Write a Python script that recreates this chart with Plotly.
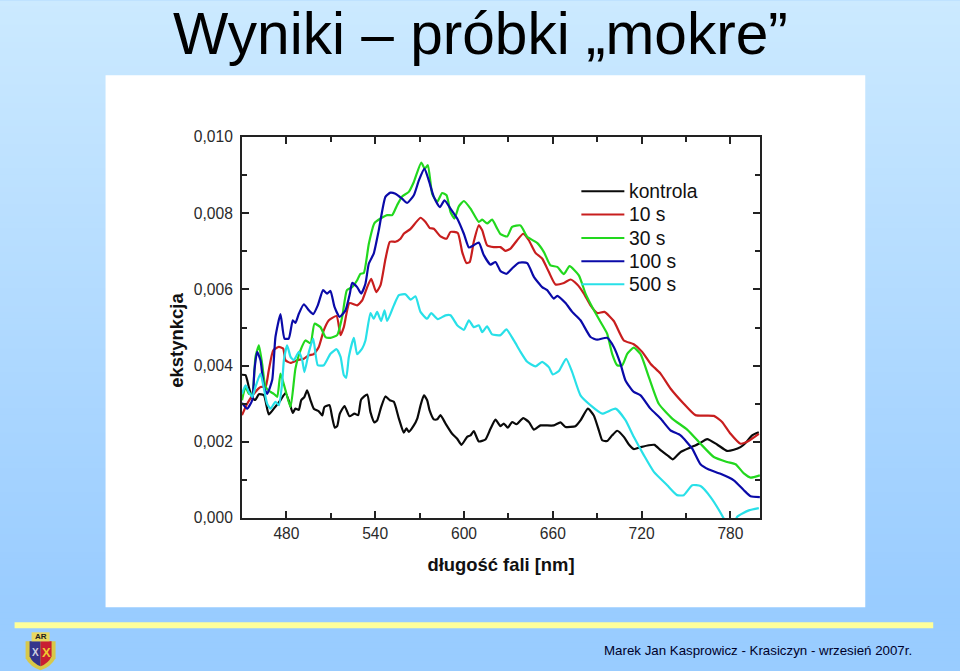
import numpy as np
import plotly.graph_objects as go

# spectra, extinction in units of 0.001
kontrola_nm = [450, 452.4, 454.6, 456.9, 459, 461.4, 464.8, 468.1, 471.5, 476, 479.4, 482.3, 484.3, 486.1, 488.4, 490, 492.2, 494, 496.3, 498.5, 501.9, 504.2, 505.7, 509.1, 510.9, 512.7, 514.3, 516.1, 519.3, 522.6, 526, 528.5, 530.5, 534.6, 536.8, 539.5, 541.3, 544, 546.9, 549.9, 552.6, 556, 559.3, 561.1, 562.7, 566.1, 568.4, 570.6, 572.9, 575.1, 576.7, 579.6, 581.9, 584.1, 587.5, 592, 595.4, 598.3, 602.1, 604.4, 606.6, 610, 614.5, 617.9, 621.3, 624.7, 626.9, 629.6, 632.5, 635.5, 640, 643.8, 647.2, 651.7, 655, 660.7, 665.2, 668.6, 675.3, 678.7, 683.7, 687.7, 691.1, 693.4, 696.7, 700.1, 703.5, 708, 711.4, 714.7, 719.3, 724.9, 728.7, 732.8, 737.3, 741.1, 746.3, 753, 758.7, 764.3, 771, 777.8, 782.3, 786.8, 790.2, 794.7, 799.2]
kontrola = [3.76, 3.75, 3.44, 3.15, 3.1, 3.25, 3.22, 2.72, 2.87, 3.09, 3.28, 3.0, 2.76, 2.87, 2.84, 3.09, 3.18, 3.35, 3.09, 2.87, 2.8, 2.69, 2.91, 2.96, 2.65, 2.37, 2.41, 2.74, 2.94, 2.67, 2.74, 2.7, 3.11, 3.24, 2.78, 2.51, 2.56, 2.91, 3.19, 3.09, 3.05, 2.61, 2.24, 2.35, 2.26, 2.43, 2.61, 2.95, 3.22, 3.09, 2.83, 2.59, 2.59, 2.7, 2.48, 2.21, 2.08, 1.92, 2.13, 2.17, 2.28, 2.01, 2.06, 2.34, 2.58, 2.41, 2.48, 2.37, 2.52, 2.46, 2.62, 2.52, 2.32, 2.43, 2.43, 2.43, 2.51, 2.39, 2.41, 2.56, 2.87, 2.69, 2.3, 2.04, 2.02, 2.17, 2.29, 2.13, 1.93, 1.81, 1.86, 1.91, 1.92, 1.78, 1.65, 1.54, 1.73, 1.85, 1.95, 2.07, 1.93, 1.76, 1.79, 1.86, 1.97, 2.17, 2.25]

s10_nm = [450, 453.5, 458, 462.5, 465.9, 468.1, 471.1, 474.9, 477.8, 479.4, 482.8, 487.3, 491.8, 495.2, 498.5, 501.9, 505.3, 508.7, 513.9, 516.6, 518.8, 522.6, 527.8, 531.2, 534.6, 537.3, 540.7, 543.6, 547, 549.9, 553.7, 557.1, 559.3, 563.9, 570.6, 574, 576.9, 579.6, 584.1, 588.2, 590.9, 595.8, 598.8, 601.7, 603.9, 606.6, 610, 612.3, 615.6, 620.1, 624.6, 628, 631.4, 635.9, 640, 643.8, 648.3, 652.8, 657.3, 661.8, 667.5, 672, 676.5, 681, 685.5, 690, 694.9, 701.2, 708, 714.7, 720.4, 726, 732.8, 739.5, 748.5, 756.4, 768.8, 774.4, 780.1, 786.8, 791.3, 799.2]
s10 = [2.7, 3.0, 3.26, 3.44, 3.44, 3.88, 4.4, 4.49, 4.45, 4.14, 4.07, 4.14, 4.18, 4.27, 4.3, 4.49, 4.93, 5.19, 5.3, 4.8, 5.01, 5.64, 5.58, 5.71, 6.06, 6.28, 5.93, 6.11, 6.81, 7.25, 7.25, 7.33, 7.46, 7.59, 7.88, 7.77, 7.61, 7.59, 7.39, 7.33, 7.51, 7.48, 6.98, 6.69, 6.72, 7.25, 7.68, 7.55, 7.16, 7.11, 7.11, 7.01, 7.07, 7.29, 7.46, 7.29, 6.96, 6.81, 6.46, 6.13, 6.17, 6.26, 6.13, 5.89, 5.58, 5.38, 5.41, 5.17, 4.66, 4.56, 4.36, 4.05, 3.79, 3.4, 3.0, 2.7, 2.68, 2.52, 2.21, 1.95, 2.0, 2.21]

s30_nm = [450, 452.4, 454.6, 456.9, 459.1, 461.4, 463.6, 465.9, 469.3, 471.5, 473.8, 476, 479.4, 482.8, 486.1, 489.5, 492.9, 496.3, 499, 503, 506.4, 509.8, 514.3, 517.7, 520.9, 524.4, 527.8, 530, 532.3, 535.7, 539.5, 543.6, 548.1, 551.5, 554.8, 558.2, 562.7, 566.1, 571.1, 573.5, 575.6, 578.5, 581.9, 585.2, 588.2, 590.9, 593.6, 596.5, 599.9, 604.4, 610, 612.3, 615.6, 619, 622.4, 624.7, 629.2, 632.5, 638.2, 642.7, 649.4, 654, 658.4, 663, 667.5, 671.3, 677.6, 682.1, 686.6, 692.2, 696.7, 700.1, 703.5, 706.9, 710.3, 714.7, 719.3, 724.9, 731.6, 740.7, 750.8, 759.8, 768.8, 777.8, 783.5, 789.1, 793.6, 799.9]
s30 = [3.09, 3.44, 3.26, 3.26, 4.23, 4.53, 4.05, 3.44, 3.31, 3.26, 3.18, 3.79, 3.35, 2.91, 3.92, 4.4, 4.66, 4.58, 5.1, 5.01, 4.75, 4.73, 4.8, 5.28, 5.98, 6.06, 6.24, 6.41, 6.43, 7.2, 7.74, 7.86, 7.95, 7.95, 8.21, 8.44, 8.56, 8.82, 9.33, 9.17, 9.26, 8.51, 8.3, 8.53, 8.47, 8.03, 7.86, 8.18, 8.32, 8.12, 7.77, 7.83, 7.73, 7.83, 7.6, 7.45, 7.39, 7.64, 7.68, 7.38, 7.22, 6.98, 6.63, 6.59, 6.4, 6.61, 6.37, 5.89, 5.54, 5.15, 4.84, 4.31, 4.01, 4.01, 4.31, 4.47, 4.3, 3.7, 3.0, 2.61, 2.32, 1.95, 1.6, 1.47, 1.41, 1.17, 1.06, 1.12]

s100_nm = [450, 453.5, 456.9, 458.4, 460.2, 462.5, 464.8, 467, 470.4, 472.6, 476, 478.7, 481.6, 484.3, 486.1, 488.4, 491.8, 495.2, 498.1, 501.2, 504.8, 507.5, 509.8, 512.5, 515.9, 519.9, 522.9, 524.4, 527.8, 530.5, 533.4, 535.7, 539, 542.4, 546.9, 550.3, 553.7, 558.2, 561.6, 566.1, 569.5, 573.3, 576.2, 579.6, 583.7, 586.8, 590.9, 595.4, 599.9, 603.3, 606.6, 610, 613.4, 617.9, 621.3, 624.7, 628.7, 632.5, 637, 642.7, 647.2, 652.8, 656.2, 660.7, 663, 668.6, 673.1, 678.7, 685.5, 690, 696.7, 701.2, 705.7, 709.1, 714.7, 719.3, 726, 732.8, 739.5, 746.3, 754.2, 759.8, 765.4, 773.3, 782.3, 789.1, 793.6, 799.9]
s100 = [3.02, 2.87, 3.09, 3.88, 4.36, 4.14, 3.44, 3.26, 3.62, 4.75, 5.35, 4.71, 4.71, 5.19, 5.12, 5.36, 5.61, 5.45, 5.35, 5.58, 5.98, 5.89, 5.96, 5.54, 5.28, 5.45, 5.89, 6.17, 6.06, 5.89, 6.15, 6.68, 6.94, 7.55, 8.43, 8.54, 8.51, 8.38, 8.27, 8.47, 8.86, 9.17, 8.86, 8.43, 8.16, 8.34, 8.12, 7.86, 7.46, 7.1, 7.16, 7.23, 6.9, 6.65, 6.72, 6.48, 6.41, 6.55, 6.7, 6.69, 6.33, 6.06, 5.98, 5.76, 5.83, 5.64, 5.41, 5.19, 4.75, 4.68, 4.73, 4.49, 4.05, 3.61, 3.31, 3.22, 2.87, 2.61, 2.3, 2.17, 1.82, 1.41, 1.27, 1.16, 0.99, 0.73, 0.57, 0.55]

s500_nm = [450, 452.4, 454.6, 456.9, 459.1, 462.5, 464.8, 467, 469.3, 472.6, 474.9, 477.1, 478.3, 480.5, 482.8, 485, 488.4, 490.7, 492.2, 495.2, 498.1, 501.2, 505.3, 509.8, 513.9, 516.6, 518.8, 520.4, 522.2, 525.6, 527.8, 531.2, 533.4, 536.8, 539, 541.3, 544, 546.3, 548.1, 552.6, 556, 560.5, 563.9, 567.2, 570.6, 575.1, 577.8, 582.3, 587.5, 590.9, 595.4, 599.9, 603.3, 606.6, 610, 612.3, 615.6, 619, 624.7, 628.7, 633.7, 638.2, 642.7, 648.3, 652.8, 657.3, 660, 664.1, 669, 673.1, 678.7, 685.5, 693.4, 702.4, 709.1, 714.7, 721.5, 728.3, 737.3, 744, 748.5, 754.2, 759.8, 766.6, 775.6, 780, 784.6, 792.5, 799.2]
s500 = [3.26, 3.48, 3.31, 3.18, 3.44, 3.79, 3.4, 3.0, 2.87, 3.05, 2.96, 3.53, 4.14, 4.53, 4.23, 4.14, 4.36, 4.14, 3.83, 4.36, 4.71, 4.01, 4.01, 4.31, 4.43, 4.23, 3.75, 3.68, 4.23, 4.73, 4.3, 4.45, 4.66, 5.38, 5.23, 5.41, 5.17, 5.45, 5.17, 5.58, 5.85, 5.87, 5.73, 5.82, 5.41, 5.23, 5.38, 5.22, 5.32, 5.32, 5.06, 4.94, 5.19, 5.01, 5.06, 4.88, 5.03, 4.82, 4.8, 4.95, 4.66, 4.36, 4.1, 3.98, 4.1, 3.96, 3.77, 3.86, 4.18, 3.83, 3.22, 2.96, 2.74, 2.87, 2.57, 2.13, 1.65, 1.21, 0.86, 0.6, 0.6, 0.86, 0.84, 0.55, -0.02, -0.37, 0.03, 0.2, 0.26]

x_ticks = [480, 540, 600, 660, 720, 780]
x_minor = [450, 510, 570, 630, 690, 750]
y_ticks = [0, 0.002, 0.004, 0.006, 0.008, 0.010]
y_labels = ["0,000", "0,002", "0,004", "0,006", "0,008", "0,010"]
y_minor = [0.001, 0.003, 0.005, 0.007, 0.009]

series = [
    ("kontrola", kontrola_nm, kontrola, "#0a0a0a"),
    ("10 s", s10_nm, s10, "#c81e1e"),
    ("30 s", s30_nm, s30, "#22d81e"),
    ("100 s", s100_nm, s100, "#0a0aa8"),
    ("500 s", s500_nm, s500, "#28e0e8"),
]
legend_rows = [191, 214.3, 237.7, 261, 284]

W, H = 960, 671
L, R, T, B = 241.5, 759.7, 136.7, 517.7
FONT = "Liberation Sans"
INK = "#222222"


def px(x):
    return (x - L) / (R - L)


def py(y):
    return (B - y) / (B - T)


def rect(x0, y0, x1, y1, color):
    return dict(type="rect", xref="paper", yref="paper", x0=px(x0), x1=px(x1), y0=py(y0), y1=py(y1),
                fillcolor=color, line_width=0, layer="below")


def label(text, x, y, size, color="#111111", xanchor="center", angle=0):
    return dict(text=text, xref="paper", yref="paper", x=px(x), y=py(y), xanchor=xanchor, yanchor="middle",
                showarrow=False, textangle=angle, font=dict(family=FONT, size=size, color=color))


def page_path(path, color):
    # path written in page pixels, converted to paper fractions
    out, is_x = [], True
    for tok in path.split():
        if tok.isalpha():
            out.append(tok)
        else:
            out.append("%.5f" % (px(float(tok)) if is_x else py(float(tok))))
            is_x = not is_x
    return dict(type="path", xref="paper", yref="paper", layer="below", line_width=0,
                fillcolor=color, path=" ".join(out))


# page background: vertical gradient, each band painted down to the page end so no seams show
shapes = []
top = np.array([204, 234, 255])
bottom = np.array([153, 204, 255])
for i in range(0, H, 6):
    c = top + (bottom - top) * min(i / 610, 1)
    shapes.append(rect(-5, i, W + 5, H + 5, "rgb(%d,%d,%d)" % tuple(c)))
shapes.append(rect(105, 75, 865, 607, "white"))
shapes.append(rect(14, 622, 933, 628, "#ffff99"))

# small crest in the footer
shapes += [
    page_path("M 25 641 L 55 641 L 55 658 Q 50 667 40 670 Q 30 667 25 658 Z", "#d8c848"),
    page_path("M 29 641 L 40 641 L 40 666 Q 32 663 29 656 Z", "#34348c"),
    page_path("M 40 641 L 51 641 L 51 656 Q 48 663 40 666 Z", "#c81e32"),
    page_path("M 31 632 L 49 632 L 49 641 L 31 641 Z", "#e8d860"),
]

# legend drawn by hand, the native one cannot keep the tight row spacing
annotations = [
    label("Wyniki – próbki „mokre”", 480, 33, 58.6, "black"),
    label("<b>ekstynkcja</b>", 176, 340, 18.5, angle=-90),
    label("Marek Jan Kasprowicz - Krasiczyn - wrzesień 2007r.", 914, 650, 13.3, "#00002a", xanchor="right"),
    label("<b>AR</b>", 40, 636.5, 8, "#222222"),
    label("<b>X</b>", 34.5, 652, 10, "#d0d0e0"),
    label("<b>X</b>", 46, 652, 13, "#f0c830"),
]
for (name, nm, values, color), row in zip(series, legend_rows):
    shapes.append(dict(type="line", xref="paper", yref="paper", x0=px(581), x1=px(624), y0=py(row), y1=py(row),
                       line=dict(color=color, width=2), layer="above"))
    annotations.append(label(name, 627, row, 19.3, xanchor="left"))

fig = go.Figure()
for name, nm, values, color in series:
    fig.add_trace(go.Scatter(x=nm, y=np.array(values) / 1000, name=name, mode="lines",
                             line=dict(color=color, width=2.2, shape="spline", smoothing=0.5)))

axis_font = dict(family=FONT, size=15.6, color="#2a2a2a")
minor = dict(tickmode="array", ticks="inside", ticklen=5, tickwidth=1.5, tickcolor=INK)
fig.update_layout(
    width=W, height=H,
    margin=dict(l=L, r=W - R, t=T, b=H - B, pad=0, autoexpand=False),
    paper_bgcolor="#99ccff",
    plot_bgcolor="rgba(0,0,0,0)",
    shapes=shapes,
    annotations=annotations,
    showlegend=False,
    font=dict(family=FONT),
    xaxis=dict(range=[450, 800], tickmode="array", tickvals=x_ticks, ticktext=[str(t) for t in x_ticks],
               ticks="inside", ticklen=7, tickwidth=1.5, tickcolor=INK,
               minor=dict(minor, tickvals=x_minor),
               showline=True, linecolor=INK, linewidth=2, mirror="allticks", showgrid=False, zeroline=False,
               tickfont=axis_font, ticklabelstandoff=0,
               title=dict(text="<b>długość fali [nm]</b>", font=dict(family=FONT, size=18.4, color="#111111"), standoff=17)),
    yaxis=dict(range=[0, 0.010], tickmode="array", tickvals=y_ticks, ticktext=y_labels,
               ticks="inside", ticklen=7, tickwidth=1.5, tickcolor=INK,
               minor=dict(minor, tickvals=y_minor),
               showline=True, linecolor=INK, linewidth=2, mirror="allticks", showgrid=False, zeroline=False,
               tickfont=axis_font, ticklabelstandoff=4),
)

fig.write_html("out.html", config={"displayModeBar": False}, post_script="document.body.style.margin='0';")
